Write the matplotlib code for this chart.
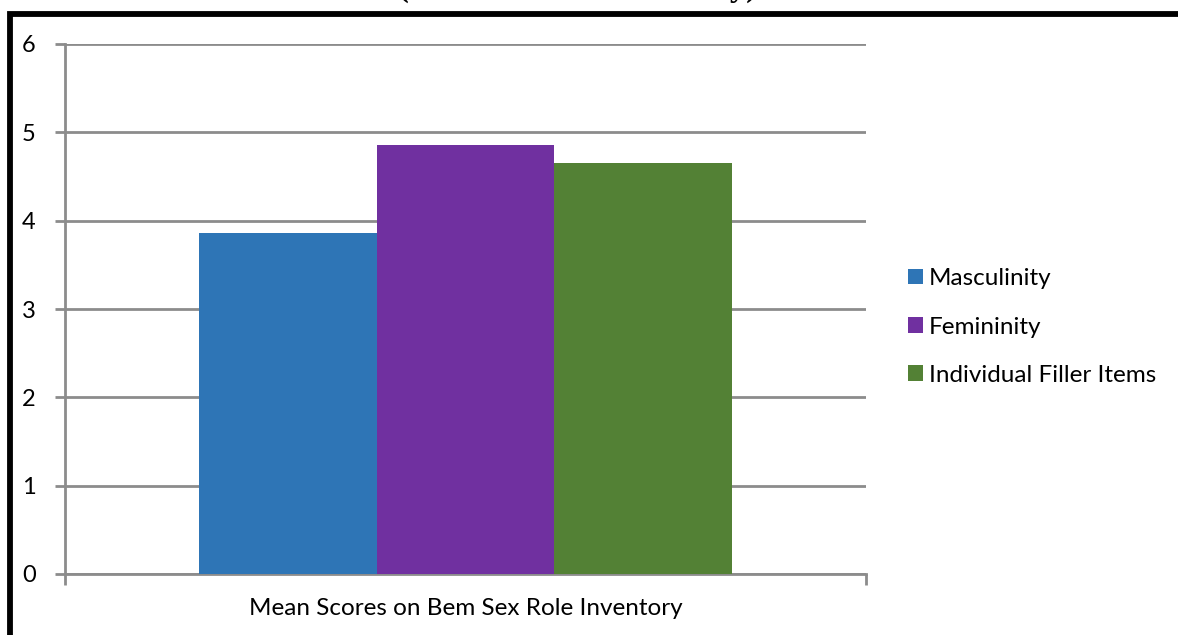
import matplotlib
matplotlib.use("Agg")
import matplotlib.pyplot as plt
from matplotlib.patches import Patch, Rectangle

# data
series = ["Masculinity", "Femininity", "Individual Filler Items"]
values = [3.86, 4.86, 4.65]
colors = ["#2E75B6", "#7030A0", "#538135"]
category = "Mean Scores on Bem Sex Role Inventory"
yticks = [0, 1, 2, 3, 4, 5, 6]

plt.rcParams['font.family'] = ['Lato', 'DejaVu Sans']

fig = plt.figure(figsize=(11.78, 6.35), dpi=100)
W, H = 1178, 635

# thick black frame around the chart (partly cut off on right/bottom)
fig.patches.append(Rectangle((10 / W, -0.05), 1.2, (H - 13.5) / H + 0.05,
                             transform=fig.transFigure, fill=False,
                             edgecolor="black", linewidth=4.2, zorder=0))

# cut-off title above the frame, only descenders show
fig.text(577 / W, 1.0 + 4 / H, "(Bem Sex Role Inventory)", ha="center",
         va="baseline", fontsize=23.5, family="Liberation Serif",
         fontweight="bold")

ax = fig.add_axes([65 / W, (H - 574) / H, (866 - 65) / W, (574 - 44) / H])

gray = "#8C8C8C"
bw = 0.2215
for i, (name, v, c) in enumerate(zip(series, values, colors)):
    ax.bar((i - 1) * bw, v, width=bw, color=c, label=name, zorder=3)

ax.set_xlim(-0.5, 0.5)
ax.set_ylim(0, 6)
ax.set_yticks(yticks)
ax.set_yticklabels([str(t) for t in yticks], fontsize=17)
ax.yaxis.grid(True, color=gray, linewidth=2, zorder=1)
ax.set_axisbelow(True)

ax.set_xticks([-0.5, 0.5])
ax.set_xticklabels(["", ""])
ax.text(0.5, -0.065, category, transform=ax.transAxes, ha="center",
        va="center", fontsize=17.5)

for s in ["top", "right"]:
    ax.spines[s].set_visible(False)
for s in ["left", "bottom"]:
    ax.spines[s].set_color(gray)
    ax.spines[s].set_linewidth(2)
ax.tick_params(axis="y", length=7, width=2, color=gray, pad=14)
ax.tick_params(axis="x", length=8, width=2, color=gray)

handles = [Patch(facecolor=c, label=n) for n, c in zip(series, colors)]
fig.legend(handles=handles, loc="center left",
           bbox_to_anchor=(908 / W, (H - 327) / H), frameon=False,
           fontsize=17.5, handlelength=0.6, handleheight=0.6,
           handletextpad=0.25, labelspacing=1.12, borderpad=0,
           borderaxespad=0)

fig.savefig("out.png", dpi=100)
